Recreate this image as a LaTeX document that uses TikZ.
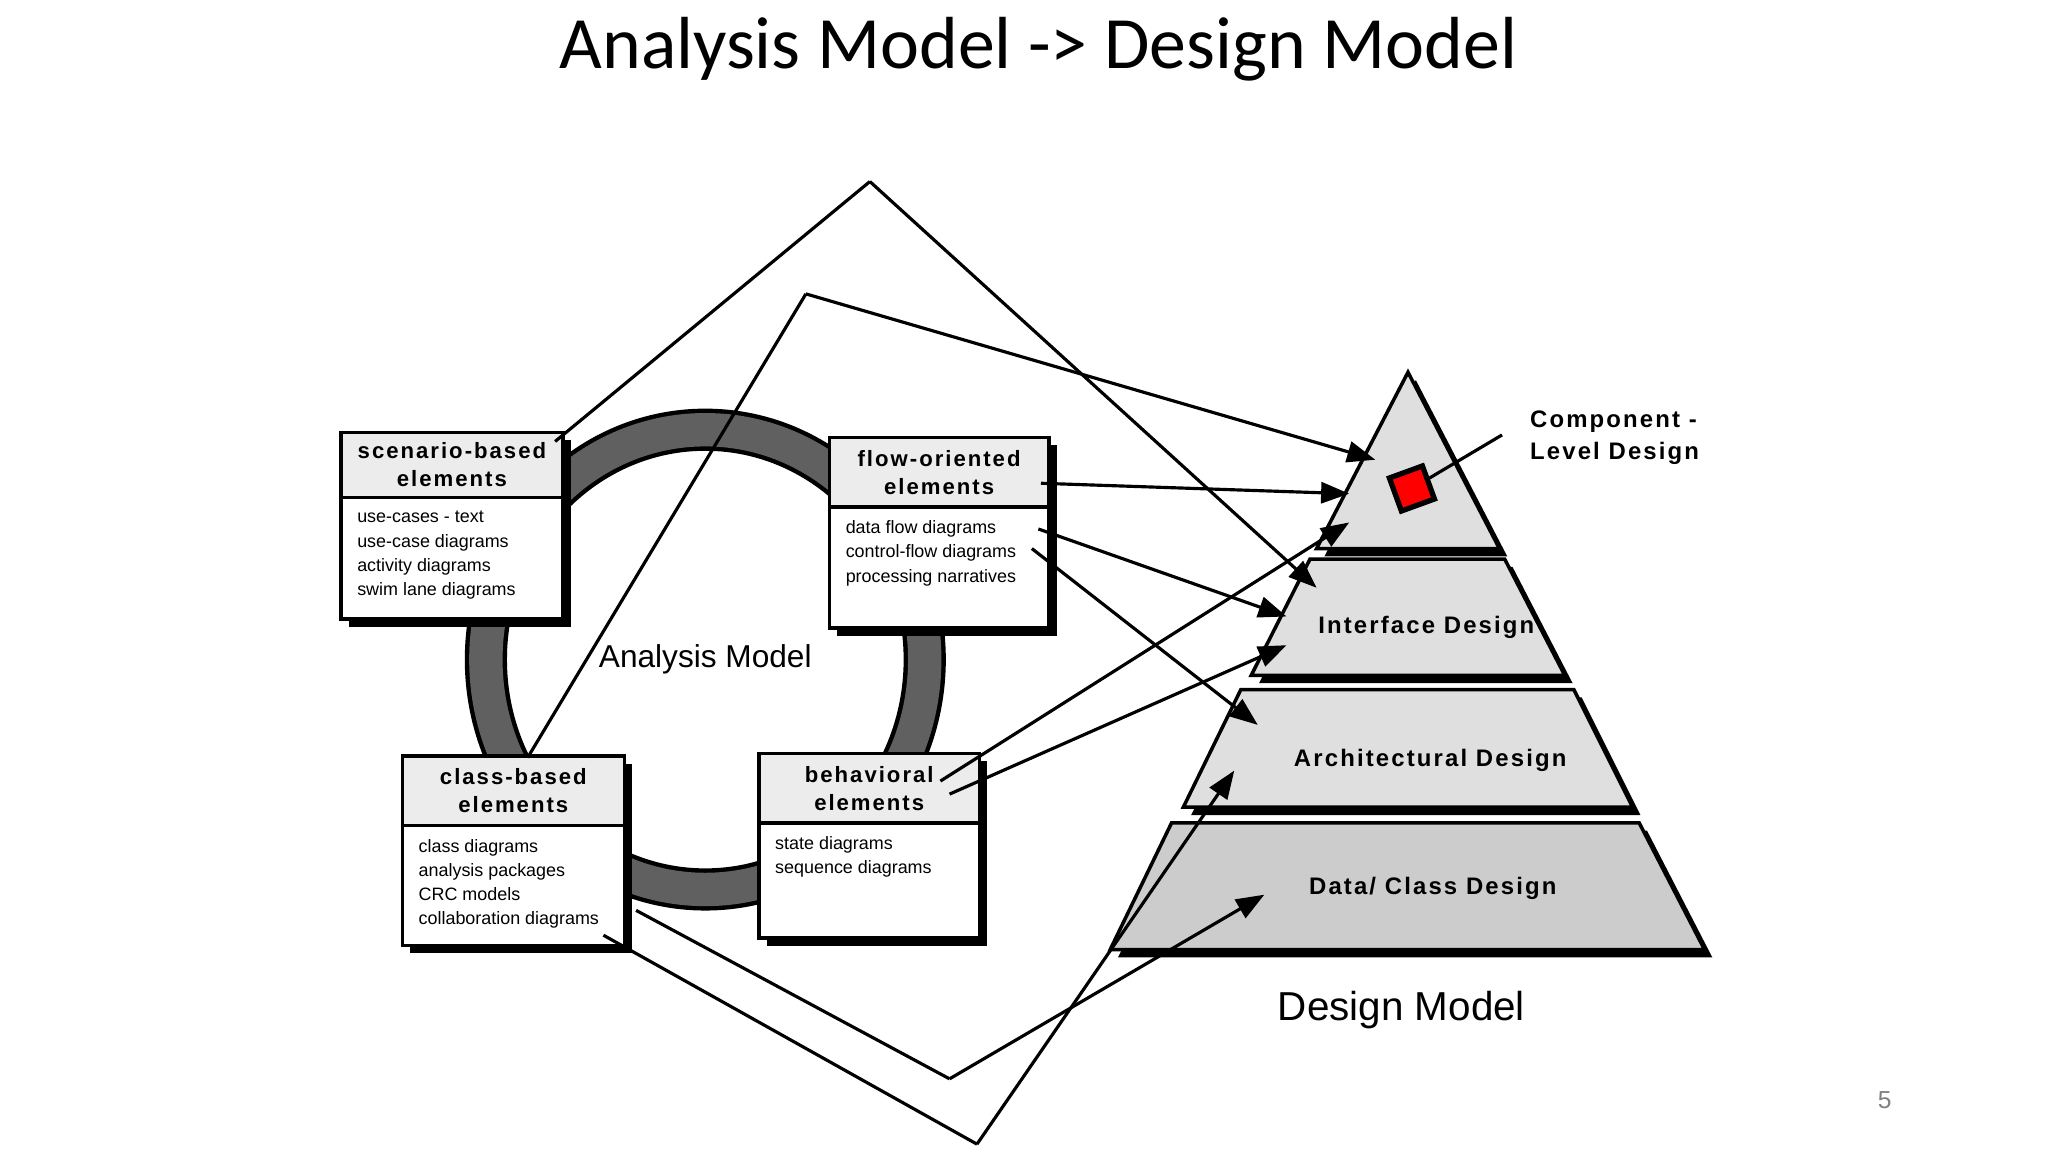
\documentclass[tikz,border=0pt]{standalone}
\usepackage{fontspec}
\setmainfont{Liberation Sans}
\newfontfamily\ttl{Carlito}
\newfontfamily\spc[LetterSpace=9]{Liberation Sans}
\usetikzlibrary{arrows.meta}
\tikzset{
 arr/.style={line width=0.9pt,-{Triangle[length=8pt,width=6pt]}},
 ln/.style={line width=0.9pt},
 tier/.style={draw=black,line width=1pt,fill=gray!25},
 shad/.style={fill=black},
 hdr/.style={font=\spc\bfseries\fontsize{6.3}{8}\selectfont,align=center},
 bdy/.style={font=\fontsize{5.1}{6.9}\selectfont,align=left,anchor=north west,inner sep=0pt},
 lbl/.style={font=\spc\bfseries\fontsize{6.8}{9}\selectfont}
}
\newcommand{\abox}[8]{%
 \fill[shad] (#2+6,#3+6) rectangle (#4+6,#5+6);
 \draw[fill=white,line width=1pt] (#2,#3) rectangle (#4,#5);
 \draw[fill=gray!15,line width=1pt] (#2,#3) rectangle (#4,#6);
 \node[hdr] (#1h) at ({(#2+#4)/2},{(#3+#6)/2}) {#7};
 \node[bdy] (#1b) at (#2+12,#6+10) {#8};
}
\begin{document}
\begin{tikzpicture}[x=0.01306cm,y=-0.01306cm]
\useasboundingbox (0,0) rectangle (1568,882);
\node[font=\ttl\fontsize{21}{25}\selectfont] (title) at (795,38) {Analysis Model -> Design Model};
% ring
\draw[line width=12pt,black] (540,505) ellipse[x radius=168,y radius=176];
\draw[line width=9.5pt,gray!75!black] (540,505) ellipse[x radius=168,y radius=176];
\node[font=\fontsize{9}{11}\selectfont] (am) at (540,505) {Analysis Model};
% boxes
\abox{sc}{261}{331}{431}{474}{381}{scenario-based\\elements}{use-cases - text\\use-case diagrams\\activity diagrams\\swim lane diagrams}
\abox{fl}{635}{335}{803}{481}{388}{flow-oriented\\elements}{data flow diagrams\\control-flow diagrams\\processing narratives}
\abox{cl}{308}{579}{478}{724}{632}{class-based\\elements}{class diagrams\\analysis packages\\CRC models\\collaboration diagrams}
\abox{be}{581}{577}{750}{718}{630}{behavioral\\elements}{state diagrams\\sequence diagrams}
% pyramid
\fill[shad] (1084,291) -- (1154,426) -- (1014,426) -- cycle;
\draw[tier] (1078,285) -- (1148,420) -- (1008,420) -- cycle;
\fill[shad] (1009,434) -- (1158,434) -- (1204,523) -- (964,523) -- cycle;
\draw[tier] (1003,428) -- (1152,428) -- (1198,517) -- (958,517) -- cycle;
\fill[shad] (956,534) -- (1211,534) -- (1256,624) -- (912,624) -- cycle;
\draw[tier] (950,528) -- (1205,528) -- (1250,618) -- (906,618) -- cycle;
\fill[shad] (903,636) -- (1261,636) -- (1311,733) -- (856,733) -- cycle;
\draw[tier,fill=gray!40] (897,630) -- (1255,630) -- (1305,727) -- (850,727) -- cycle;
\node[draw=black,fill=red,line width=1.5pt,minimum size=10pt,inner sep=0pt,rotate=20] (red) at (1081,374) {};
\node[lbl,anchor=west,align=left] (comp) at (1162,335) {Component -\\Level Design};
\node[lbl] (intf) at (1092,480) {Interface Design};
\node[lbl] (arch) at (1095,582) {Architectural Design};
\node[lbl] (data) at (1097,680) {Data/ Class Design};
\node[font=\fontsize{11.5}{14}\selectfont] (dm) at (1073,773) {Design Model};
\node[font=\fontsize{7}{8}\selectfont,text=gray] (pg) at (1443,842) {5};
\draw[ln] (1150,333) -- (red);
% diamond lines
\coordinate (d1) at (666,139); \coordinate (d2) at (617,225);
\coordinate (d3) at (748,876); \coordinate (d4) at (727,826);
\draw[ln] (425,338) -- (d1);
\draw[arr] (d1) -- (1008,450);
\draw[ln] (404,580) -- (d2);
\draw[arr] (d2) -- (1053,352);
\draw[ln] (462,716) -- (d3);
\draw[arr] (d3) -- (945,590);
\draw[ln] (487,697) -- (d4);
\draw[arr] (d4) -- (968,685);
% arrows from flow and behavioral
\draw[arr] (797,370) -- (1033,378);
\draw[arr] (795,405) -- (985,472);
\draw[arr] (790,420) -- (963,555);
\draw[arr] (720,598) -- (1033,400);
\draw[arr] (727,608) -- (985,494);
\end{tikzpicture}
\end{document}
